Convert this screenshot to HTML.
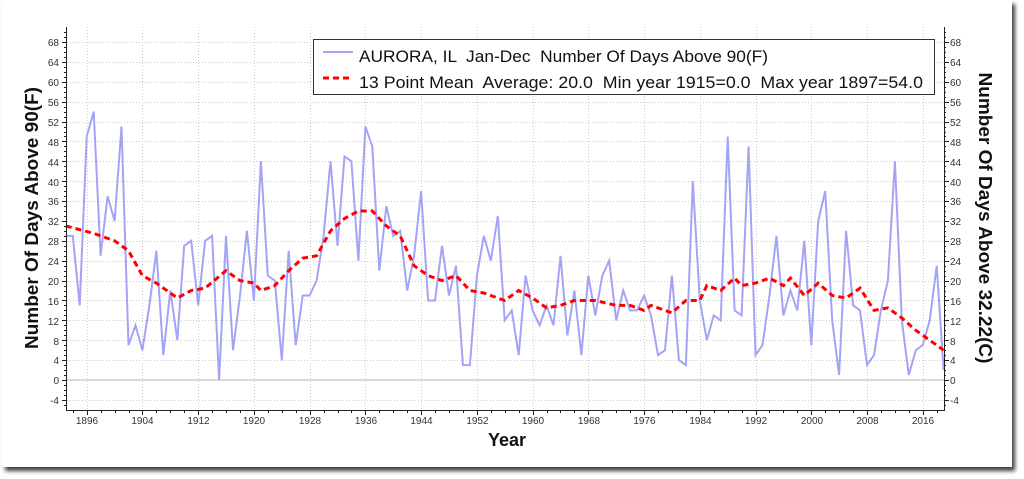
<!DOCTYPE html>
<html><head><meta charset="utf-8"><style>
body{margin:0;background:#fff;width:1024px;height:479px;overflow:hidden;font-family:"Liberation Sans",sans-serif}
#frame{position:absolute;left:2px;top:0;width:1010px;height:467px;background:#fff;box-shadow:3px 4px 4px rgba(0,0,0,0.75)}
svg{position:absolute;left:0;top:0}
</style></head><body>
<div id="frame"></div>
<svg width="1024" height="479" xmlns="http://www.w3.org/2000/svg" font-family="Liberation Sans, sans-serif">
<g id="grid" stroke="#ccc" stroke-dasharray="1,2" stroke-width="1"></g>
<line x1="66" y1="380" x2="944" y2="380" stroke="#bbb" stroke-width="1"/>
<polyline id="raw" fill="none" stroke="#a4a4f7" stroke-width="2"/>
<polyline id="avg" fill="none" stroke="#ff0000" stroke-width="3" stroke-dasharray="6,4"/>
<g id="axes" stroke="#222" stroke-width="1" fill="none">
<line x1="66.5" y1="27" x2="66.5" y2="410"/>
<line x1="944.5" y1="27" x2="944.5" y2="410"/>
<line x1="66" y1="410.5" x2="945" y2="410.5"/>
</g>
<g id="ticks" stroke="#222" stroke-width="1"></g>
<g font-size="10" fill="#333" text-anchor="end">
<text x="59" y="46">68</text><text x="59" y="66">64</text><text x="59" y="86">60</text><text x="59" y="106">56</text><text x="59" y="126">52</text><text x="59" y="146">48</text><text x="59" y="166">44</text><text x="59" y="186">40</text><text x="59" y="205">36</text><text x="59" y="225">32</text><text x="59" y="245">28</text><text x="59" y="265">24</text><text x="59" y="285">20</text><text x="59" y="305">16</text><text x="59" y="325">12</text><text x="59" y="345">8</text><text x="59" y="364">4</text><text x="59" y="384">0</text><text x="59" y="404">-4</text>
</g>
<g font-size="10" fill="#333" text-anchor="start">
<text x="950" y="46">68</text><text x="950" y="66">64</text><text x="950" y="86">60</text><text x="950" y="106">56</text><text x="950" y="126">52</text><text x="950" y="146">48</text><text x="950" y="166">44</text><text x="950" y="186">40</text><text x="950" y="205">36</text><text x="950" y="225">32</text><text x="950" y="245">28</text><text x="950" y="265">24</text><text x="950" y="285">20</text><text x="950" y="305">16</text><text x="950" y="325">12</text><text x="950" y="345">8</text><text x="950" y="364">4</text><text x="950" y="384">0</text><text x="950" y="404">-4</text>
</g>
<g font-size="10" fill="#333" text-anchor="middle">
<text x="87" y="424">1896</text><text x="142.5" y="424">1904</text><text x="198.5" y="424">1912</text><text x="254" y="424">1920</text><text x="310" y="424">1928</text><text x="366" y="424">1936</text><text x="421.5" y="424">1944</text><text x="477.5" y="424">1952</text><text x="533" y="424">1960</text><text x="589" y="424">1968</text><text x="644.5" y="424">1976</text><text x="700.5" y="424">1984</text><text x="756" y="424">1992</text><text x="812" y="424">2000</text><text x="867.5" y="424">2008</text><text x="923" y="424">2016</text>
</g>
<text x="507" y="446" font-size="18" font-weight="bold" text-anchor="middle" fill="#111">Year</text>
<text transform="translate(38,218) rotate(-90)" font-size="18" font-weight="bold" text-anchor="middle" fill="#111" textLength="262" lengthAdjust="spacingAndGlyphs">Number Of Days Above 90(F)</text>
<text transform="translate(979,218) rotate(90)" font-size="18" font-weight="bold" text-anchor="middle" fill="#111" textLength="291" lengthAdjust="spacingAndGlyphs">Number Of Days Above 32.22(C)</text>
<rect x="313.5" y="39.5" width="621" height="55" fill="#fff" stroke="#333" stroke-width="1"/>
<line x1="323" y1="52" x2="353" y2="52" stroke="#a4a4f7" stroke-width="2"/>
<line x1="323" y1="78" x2="353" y2="78" stroke="#ff0000" stroke-width="3" stroke-dasharray="6,4"/>
<text x="359" y="62" font-size="17" fill="#111" xml:space="preserve" textLength="409" lengthAdjust="spacingAndGlyphs">AURORA, IL  Jan-Dec  Number Of Days Above 90(F)</text>
<text x="359" y="88" font-size="17" fill="#111" xml:space="preserve" textLength="564" lengthAdjust="spacingAndGlyphs">13 Point Mean  Average: 20.0  Min year 1915=0.0  Max year 1897=54.0</text>
</svg>
<script>
function X(y){return 86.7+(y-1896)*6.967}
function Y(v){return 380-v*4.97}
var raw=[29,29,15,49,54,25,37,32,51,7,11,6,15,26,5,18,8,27,28,15,28,29,0,29,6,17,30,16,44,21,20,4,26,7,17,17,20,29,44,27,45,44,24,51,47,22,35,29,30,18,25,38,16,16,27,17,23,3,3,21,29,24,33,12,14,5,21,14,11,15,11,25,9,18,5,21,13,21,24,12,18,14,14,17,13,5,6,21,4,3,40,16,8,13,12,49,14,13,47,5,7,17,29,13,18,14,28,7,32,38,12,1,30,15,14,3,5,14,20,44,12,1,6,7,12,23,2];
var p=[];for(var i=0;i<raw.length;i++)p.push(X(1893+i).toFixed(1)+","+Y(raw[i]).toFixed(1));
document.getElementById("raw").setAttribute("points",p.join(" "));
var a=[[1893,31],[1897,29.5],[1900,28],[1902,26],[1904,21],[1906,19.5],[1909,16.5],[1911,18],[1913,18.5],[1916,22],[1918,20],[1920,19.5],[1921,18],[1923,19],[1925,22],[1927,24.5],[1929,25],[1931,30],[1933,32.5],[1935,34],[1937,34],[1939,31],[1941,29],[1943,23],[1945,21],[1947,20],[1949,21],[1951,18],[1953,17.5],[1956,16],[1958,18],[1960,16.5],[1962,14.5],[1964,15],[1966,16],[1969,16],[1972,15],[1974,15],[1976,14],[1977,15],[1980,13.5],[1982,16],[1984,16],[1985,19],[1987,18],[1989,20.5],[1990,19],[1992,19.5],[1994,20.5],[1996,19],[1997,20.5],[1999,17],[2001,19.5],[2003,17],[2005,16.5],[2007,18.5],[2009,14],[2011,14.5],[2013,12.5],[2015,10],[2017,8],[2019,6]];
document.getElementById("avg").setAttribute("points",a.map(function(q){return X(q[0]).toFixed(1)+","+Y(q[1]).toFixed(1)}).join(" "));
var g=document.getElementById("grid"),t=document.getElementById("ticks"),ns="http://www.w3.org/2000/svg";
function L(par,x1,y1,x2,y2){var l=document.createElementNS(ns,"line");l.setAttribute("x1",x1);l.setAttribute("y1",y1);l.setAttribute("x2",x2);l.setAttribute("y2",y2);par.appendChild(l);}
for(var v=-4;v<=68;v+=4){var y=Math.round(Y(v))+0.5;L(g,67,y,944,y);L(t,62,y,66,y);L(t,944,y,949,y);}
for(var v=-5;v<=70;v++){var y=Math.round(Y(v))+0.5;L(t,66,y,64,y);L(t,944,y,946,y);}
for(var yr=1896;yr<=2016;yr+=8){var x=Math.round(X(yr))+0.5;L(g,x,27,x,410);L(t,x,410,x,415);}
for(var yr=1894;yr<=2019;yr+=2){var x=Math.round(X(yr))+0.5;L(t,x,410,x,413);}
</script>
</body></html>
